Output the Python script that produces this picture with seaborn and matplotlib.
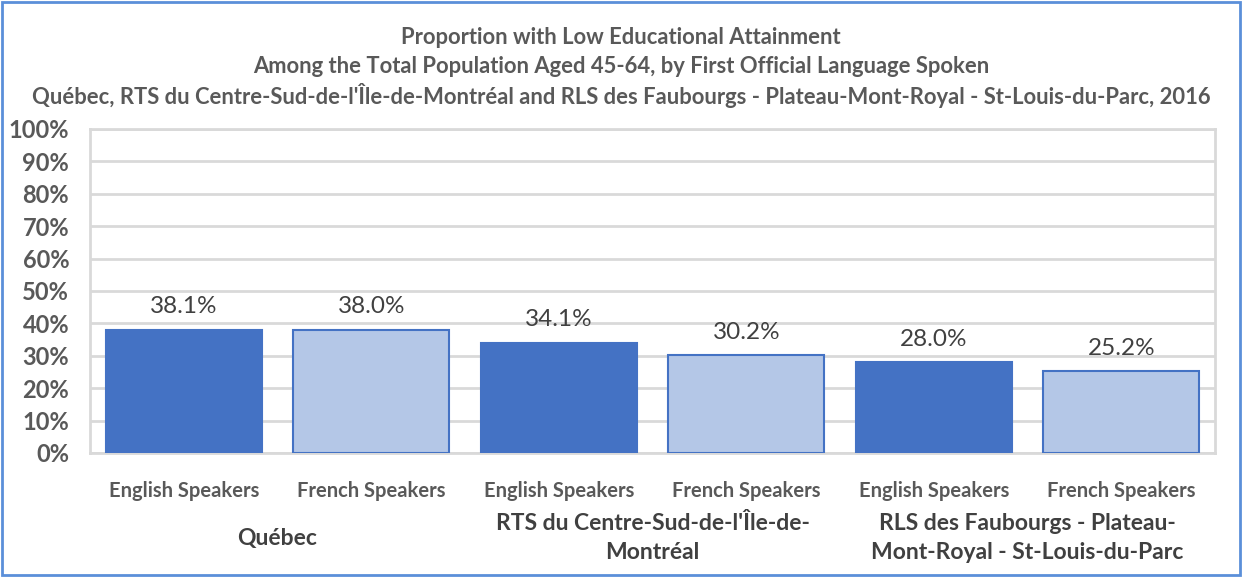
import matplotlib
matplotlib.use("Agg")
import matplotlib.pyplot as plt
import matplotlib.transforms as mtransforms
from matplotlib.patches import Rectangle
import seaborn as sns
import pandas as pd

# ---- data ----
regions = ["Québec", "RTS du Centre-Sud-de-l'Île-de-\nMontréal",
           "RLS des Faubourgs - Plateau-\nMont-Royal - St-Louis-du-Parc"]
languages = ["English Speakers", "French Speakers"]
english_values = [38.1, 34.1, 28.0]
french_values = [38.0, 30.2, 25.2]
title_lines = ["Proportion with Low Educational Attainment",
               "Among the Total Population Aged 45-64, by First Official Language Spoken",
               "Québec, RTS du Centre-Sud-de-l'Île-de-Montréal and RLS des Faubourgs - Plateau-Mont-Royal - St-Louis-du-Parc, 2016"]

rows = []
for i, r in enumerate(regions):
    rows.append({"bar": f"{i}-E", "region": r, "lang": languages[0], "value": english_values[i]})
    rows.append({"bar": f"{i}-F", "region": r, "lang": languages[1], "value": french_values[i]})
df = pd.DataFrame(rows)

sns.set_theme(style="white")
plt.rcParams["font.family"] = ["Lato", "DejaVu Sans"]

dark = "#4472C4"
light = "#B4C7E7"
grey = "#595959"

fig = plt.figure(figsize=(12.42, 5.77), dpi=100)
ax = fig.add_axes([90/1242, 124/577, (1215-90)/1242, (453-129)/577])

sns.barplot(data=df, x="bar", y="value", hue="lang", palette=[dark, light],
            saturation=1, dodge=False, width=0.83, ax=ax, legend=False, zorder=3)
for cont in ax.containers:
    for p in cont:
        p.set_edgecolor(dark)
        p.set_linewidth(1.5)

ax.set_ylim(0, 100)
ax.set_yticks(range(0, 101, 10))
ax.set_yticklabels([f"{v}%" for v in range(0, 101, 10)], fontsize=17,
                   fontweight="bold", color=grey)
ax.set_xlim(-0.5, len(df) - 0.5)
ax.set_xticks(range(len(df)))
ax.set_xticklabels(list(df["lang"]), fontsize=14.5, fontweight="bold", color=grey)
ax.tick_params(axis="x", length=0, pad=20)
ax.tick_params(axis="y", length=0, pad=15)
ax.set_xlabel("")
ax.set_ylabel("")
ax.yaxis.grid(True, color="#D9D9D9", linewidth=2, zorder=0)
ax.set_axisbelow(True)
for s in ax.spines.values():
    s.set_color("#D9D9D9")
    s.set_linewidth(2)

# value labels
for cont in ax.containers:
    for p in cont:
        h = p.get_height()
        if h > 0:
            ax.annotate(f"{h:.1f}%", (p.get_x() + p.get_width()/2, h),
                        xytext=(0, 9), textcoords="offset points",
                        ha="center", va="bottom", fontsize=17.5, color="#404040")

# group labels
trans = mtransforms.blended_transform_factory(ax.transData, fig.transFigure)
for i, r in enumerate(regions):
    ax.text(2*i + 0.5, (577-538)/577, r, transform=trans, ha="center", va="center",
            fontsize=16.5, fontweight="bold", color="#404040", linespacing=1.5)

# title
for k, line in enumerate(title_lines):
    fig.text(0.5, 1 - (37 + 29.5*k)/577, line, ha="center", va="center",
             fontsize=15.8, fontweight="bold", color=grey)

fig.patches.append(Rectangle((0.002, 0.003), 0.996, 0.994, transform=fig.transFigure,
                             fill=False, edgecolor="#5B8FD9", linewidth=2))

fig.savefig("out.png", dpi=100, facecolor="white")
